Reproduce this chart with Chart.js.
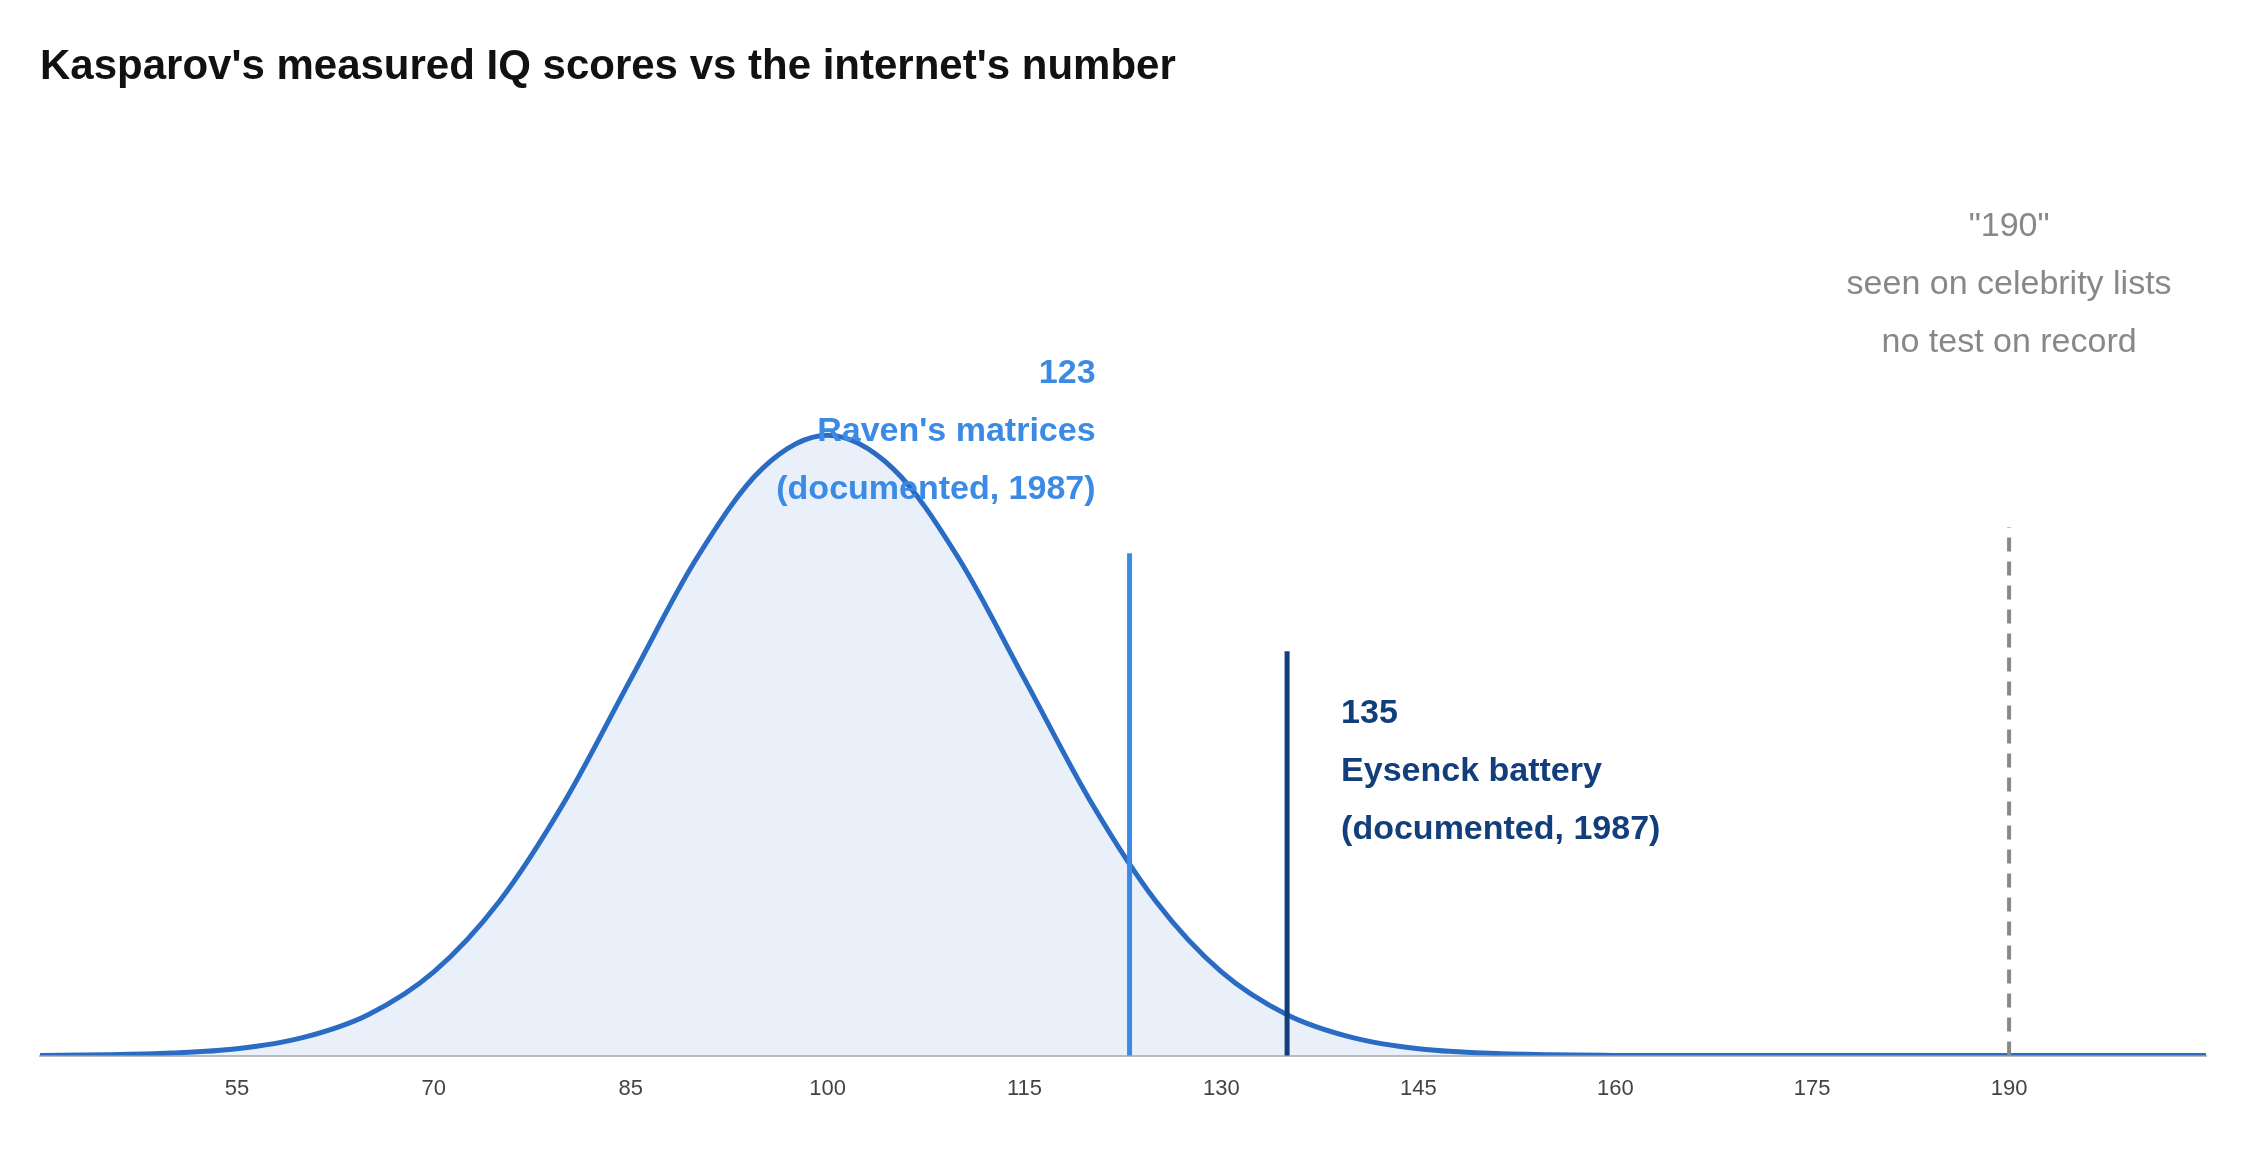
<!DOCTYPE html>
<html>
<head>
<meta charset="utf-8">
<script src="https://cdn.jsdelivr.net/npm/chart.js@4/dist/chart.umd.min.js"></script>
<style>
  html, body { margin: 0; padding: 0; background: #fff; }
  #wrap { width: 2256px; height: 1152px; }
</style>
</head>
<body>
<div id="wrap"><canvas id="iqChart"></canvas></div>
<script>
// curve (relative height, peak = 1)
const iqValues = [40, 45, 50, 55, 60, 65, 70, 75, 80, 85, 90, 95, 100, 105, 110, 115, 120, 125, 130, 135, 140, 145, 150, 155, 160, 165, 170, 175, 180, 185, 190, 195, 200, 205];
const curveHeights = [0.0003, 0.0012, 0.004, 0.011, 0.029, 0.066, 0.135, 0.249, 0.411, 0.607, 0.801, 0.946, 1, 0.946, 0.801, 0.607, 0.411, 0.249, 0.135, 0.066, 0.029, 0.011, 0.004, 0.0012, 0.0003, 0, 0, 0, 0, 0, 0, 0, 0, 0];
const tickValues = [55, 70, 85, 100, 115, 130, 145, 160, 175, 190];

const markerScores = [123, 135, 190];
const markerHeights = [0.81, 0.652, 0.852];
const markerLabels = [
    ['123', "Raven's matrices", '(documented, 1987)'],
    ['135', 'Eysenck battery', '(documented, 1987)'],
    ['"190"', 'seen on celebrity lists', 'no test on record']
];

const markerPlugin = {
    id: 'markers',
    afterDatasetsDraw(chart) {
        const { ctx, scales: { x, y } } = chart;
        const base = y.getPixelForValue(0);
        const styles = [
            { color: '#3b8ae6', dash: [], align: 'right', dx: -34, bold: true, width: 5 },
            { color: '#123f7c', dash: [], align: 'left', dx: 54, bold: true, width: 5 },
            { color: '#888888', dash: [14, 10], align: 'center', dx: 0, bold: false, width: 4 }
        ];
        const textTops = [374, 714, 227];
        ctx.save();
        markerScores.forEach((score, i) => {
            const s = styles[i];
            const px = x.getPixelForValue(score);
            ctx.strokeStyle = s.color;
            ctx.lineWidth = s.width;
            ctx.setLineDash(s.dash);
            ctx.beginPath();
            ctx.moveTo(px, base);
            ctx.lineTo(px, y.getPixelForValue(markerHeights[i]));
            ctx.stroke();
            ctx.setLineDash([]);
            ctx.fillStyle = s.color;
            ctx.textAlign = s.align;
            ctx.textBaseline = 'middle';
            ctx.font = (s.bold ? 'bold ' : '') + '34px "Liberation Sans", Arial, sans-serif';
            markerLabels[i].forEach((line, j) => {
                ctx.fillText(line, px + s.dx, textTops[i] + j * 58);
            });
        });
        ctx.restore();
    }
};

const iqChart = () => {
    const ctx = document.getElementById('iqChart').getContext('2d');

    new Chart(ctx, {
        type: 'line',
        data: {
            datasets: [{
                data: iqValues.map((v, i) => ({ x: v, y: curveHeights[i] })),
                borderColor: '#2a6bc4',
                backgroundColor: 'rgba(42, 107, 196, 0.1)',
                borderWidth: 5,
                fill: 'origin',
                pointRadius: 0,
                cubicInterpolationMode: 'monotone'
            }]
        },
        options: {
            responsive: true,
            maintainAspectRatio: false,
            animation: false,
            layout: { padding: { left: 40, right: 50, bottom: 40 } },
            scales: {
                x: {
                    type: 'linear',
                    min: 40,
                    max: 205,
                    afterBuildTicks: (axis) => { axis.ticks = tickValues.map(v => ({ value: v })); },
                    grid: { display: false, drawTicks: true, tickLength: 10, color: '#bbbbbb' },
                    border: { color: '#bbbbbb', width: 2 },
                    ticks: {
                        color: '#444',
                        padding: 10,
                        font: { size: 22, family: '"Liberation Sans", Arial, sans-serif' }
                    }
                },
                y: {
                    display: false,
                    min: 0,
                    max: 1.44
                }
            },
            plugins: {
                legend: { display: false },
                tooltip: { enabled: false },
                title: {
                    display: true,
                    text: "Kasparov's measured IQ scores vs the internet's number",
                    align: 'start',
                    color: '#111',
                    font: { size: 42, weight: 'bold', family: '"Liberation Sans", Arial, sans-serif' },
                    padding: { top: 42, bottom: 70 }
                }
            }
        },
        plugins: [markerPlugin]
    });
}

document.addEventListener('DOMContentLoaded', iqChart);
</script>
</body>
</html>
